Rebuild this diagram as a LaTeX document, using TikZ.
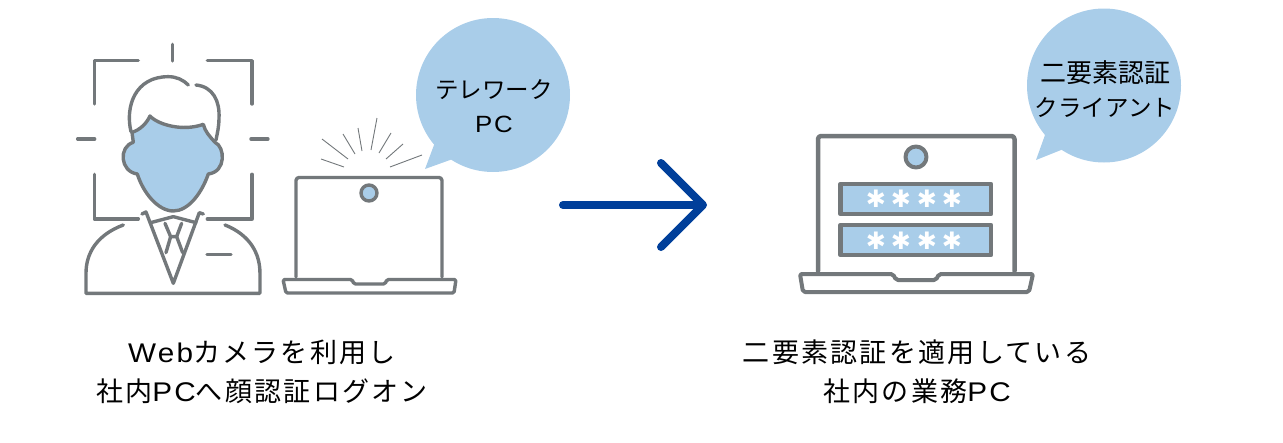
\documentclass[tikz,border=0pt]{standalone}
\usepackage{fontspec}
\setmainfont{Noto Sans CJK JP}
\newfontfamily\latinfont[FakeStretch=1.1, LetterSpace=8]{Liberation Sans}
\usepackage{xcolor}
\usetikzlibrary{arrows.meta}
\definecolor{iconline}{HTML}{73787B}
\definecolor{iconfill}{HTML}{A9CDE9}
\definecolor{arrowblue}{HTML}{003F9A}
\newcommand{\latinword}[1]{{\latinfont #1}}
\tikzset{
	outline/.style={draw=iconline, line width=3.4pt, line join=round, line cap=round},
	bubble/.style={fill=iconfill, draw=none},
	bubbletext/.style={align=center, font=\fontsize{23.5}{34}\selectfont},
	captiontext/.style={align=center, font=\fontsize{27}{39}\selectfont\addfontfeatures{LetterSpace=8.5}},
	starmark/.style={text=white, inner sep=0pt, font=\fontspec{DejaVu Sans}\fontsize{24}{24}\selectfont}
}
\begin{document}
\begin{tikzpicture}[x=1pt, y=-1pt]
	\useasboundingbox (0,0) rectangle (1283,442);
	\begin{scope}[shift={(60,30)}, x=0.3333pt, y=-0.3333pt]
		\draw [outline] (103,222) -- (103,92) -- (235,92);
		\draw [outline] (442,92) -- (576,92) -- (576,222);
		\draw [outline] (103,433) -- (103,567) -- (235,567);
		\draw [outline] (442,567) -- (576,567) -- (576,433);
		\draw [outline] (338,43) -- (338,93);
		\draw [outline] (53,327) -- (104,327);
		\draw [outline] (573,327) -- (624,327);
		\draw [outline] (213,305) .. controls (195,230) and (225,140) .. (325,140) .. controls (350,140) and (370,150) .. (385,165);
		\draw [outline] (408,165) .. controls (460,170) and (480,215) .. (477,265) .. controls (477,290) and (472,310) .. (468,330);
		\draw [outline, fill=iconfill] (270,258) .. controls (295,285) and (370,305) .. (430,283) .. controls (435,305) and (450,320) .. (465,337) .. controls (495,350) and (500,425) .. (445,432) .. controls (425,490) and (385,543) .. (340,543) .. controls (295,543) and (250,490) .. (232,432) .. controls (180,425) and (175,350) .. (220,337) -- (216,307) .. controls (240,300) and (260,280) .. (270,258) -- cycle;
		\draw [outline] (246,552) -- (258,546) -- (340,760) -- (418,548) -- (430,552);
		\draw [outline] (272,578) -- (340,560) -- (408,578);
		\draw [outline] (315,580) -- (332,620) -- (350,620) -- (365,580);
		\draw [outline] (332,620) -- (318,668);
		\draw [outline] (350,620) -- (368,668);
		\draw [outline] (190,585) .. controls (110,615) and (78,670) .. (78,730) -- (78,790) -- (600,790) -- (600,730) .. controls (600,670) and (570,615) .. (495,585);
		\draw [outline] (441,673) -- (513,673);
	\end{scope}
	\draw [outline, rounded corners=3pt] (296,277) -- (296,177.5) -- (442,177.5) -- (442,277);
	\draw [outline, rounded corners=1.5pt] (283,279.5) -- (352,279.5) -- (354,284) -- (385,284) -- (387,279.5) -- (456,279.5) -- (454,293) -- (286,293) -- cycle;
	\draw [outline, fill=iconfill] (369,193) circle (8);
	\foreach \xa/\ya/\xb/\yb in {322/139/348/159, 343/134/355/154, 358/128/362/151, 377/118/371/150, 391/133/379/153, 403/144/386/159, 422/155/390/167, 321/159/344/167}
		\draw [iconline, line width=0.9pt] (\xa,\ya) -- (\xb,\yb);
	\draw [outline, line width=4.5pt, rounded corners=3pt] (818,271) -- (818,136) -- (1014.5,136) -- (1014.5,271);
	\draw [outline, rounded corners=2pt, line width=4pt] (800,274) -- (893,274) -- (896,280) -- (936,280) -- (939,274) -- (1033,274) -- (1029,292) -- (803,292) -- cycle;
	\draw [outline, line width=4pt, fill=iconfill] (916,157) circle (10.5);
	\draw [outline, line width=4.5pt, fill=iconfill] (840.5,184) rectangle (991,214);
	\draw [outline, line width=4.5pt, fill=iconfill] (840.5,225) rectangle (991,255);
	\foreach \posx [count=\i] in {876,901,927,952} {
		\node [starmark] (staru\i) at (\posx,199) {✱};
		\node [starmark] (starl\i) at (\posx,240.5) {✱};
	}
	\fill [bubble] (434,145) -- (425,169) -- (450,160) -- (470,150) -- (440,120) -- cycle;
	\fill [bubble] (493,95) circle (77);
	\fill [bubble] (1045,135) -- (1036,160) -- (1061,150) -- (1080,140) -- (1050,110) -- cycle;
	\fill [bubble] (1104,85.5) circle (77);
	\node [bubbletext] (telework) at (494,106) {テレワーク\\\latinword{PC}};
	\node [bubbletext] (client) at (1105,89) {{\fontsize{26}{34}\selectfont 二要素認証}\\クライアント};
	\node [captiontext] (captionleft) at (262,372) {\latinword{Web}カメラを利用し\\社内\latinword{PC}へ顔認証ログオン};
	\node [captiontext] (captionright) at (917,372) {二要素認証を適用している\\社内の業務\latinword{PC}};
	\coordinate (arrowstart) at (563,205);
	\coordinate (arrowend) at (707,205);
	\draw [draw=arrowblue, line width=8pt, line cap=round, -{Straight Barb[round, length=42pt, width=84pt]}] (arrowstart) -- (arrowend);
\end{tikzpicture}
\end{document}
